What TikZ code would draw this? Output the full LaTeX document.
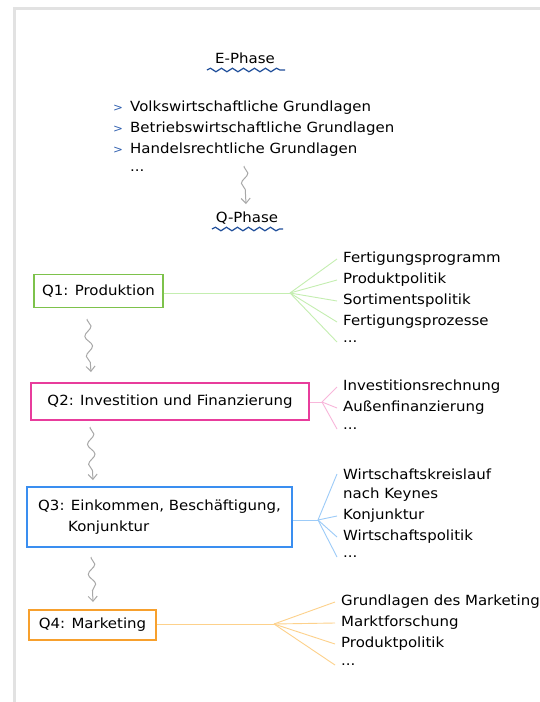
\documentclass[tikz,border=0pt]{standalone}
\usepackage{fontspec}
\setmainfont[FakeStretch=1.07]{DejaVu Sans}
\usetikzlibrary{decorations.pathmorphing,arrows.meta}
\definecolor{frame}{HTML}{E2E2E2}
\definecolor{wavy}{HTML}{1F4E9A}
\definecolor{bul}{HTML}{2F5FAF}
\definecolor{gA}{HTML}{7DC24B}\definecolor{gL}{HTML}{C4EEB0}
\definecolor{pA}{HTML}{E83C9C}\definecolor{pL}{HTML}{F8B6DA}
\definecolor{bA}{HTML}{3A8EF0}\definecolor{bL}{HTML}{9CCBF8}
\definecolor{oA}{HTML}{F7A02D}\definecolor{oL}{HTML}{FDD18B}
\definecolor{arr}{HTML}{A8A8A8}
\begin{document}
\begin{tikzpicture}[x=1pt,y=-1pt,
  txt/.style={font=\fontsize{14}{21}\selectfont, text=black, inner sep=0pt},
  item/.style={txt, anchor=west, inner xsep=6pt, inner ysep=0pt},
  qbox/.style={draw=#1, line width=1.4pt, fill=white, font=\fontsize{14}{21}\selectfont, inner sep=0pt},
  fan/.style={draw=#1, line width=0.9pt},
  underwave/.style={draw=wavy, line width=1.2pt, decorate, decoration={snake, segment length=11pt, amplitude=1.8pt}},
  wavearrow/.style={draw=arr, line width=1pt, decorate, decoration={snake, segment length=20pt, amplitude=3.5pt, pre length=1pt, post length=8pt}, -{Straight Barb[length=5pt,width=9pt]}},
  bullet/.style={text=bul, font=\fontsize{11}{11}\selectfont, inner sep=0pt}
]
\useasboundingbox (0,0) rectangle (540,702);
\fill[white] (0,0) rectangle (540,702);
% frame
\draw[frame, line width=3pt] (14.5,702) -- (14.5,8.5) -- (540,8.5);

% E-Phase
\node[txt] (ephase) at (245,58) {E-Phase};
\coordinate (ew1) at (207,70);
\coordinate (ew2) at (285,70);
\draw[underwave] (ew1) -- (ew2);

\node[bullet] (b1) at (118,108) {>};
\node[bullet] (b2) at (118,129) {>};
\node[bullet] (b3) at (118,150) {>};
\node[txt, anchor=west] (e1) at (130,108) {Volkswirtschaftliche Grundlagen};
\node[txt, anchor=west] (e2) at (130,129) {Betriebswirtschaftliche Grundlagen};
\node[txt, anchor=west] (e3) at (130,150) {Handelsrechtliche Grundlagen};
\node[txt, anchor=west] (e4) at (130,171) {...};

% Q-Phase
\node[txt] (qphase) at (247,218) {Q-Phase};
\coordinate (qw1) at (212,229);
\coordinate (qw2) at (283,229);
\draw[underwave] (qw1) -- (qw2);

\coordinate (ea1) at (244,166);
\coordinate (ea2) at (246,204);
\draw[wavearrow] (ea1) -- (ea2);

% Q1
\node[qbox=gA, minimum width=129pt, minimum height=33pt] (q1) at (98.5,291) {Q1: Produktion};
\coordinate (f1) at (290,293);
\node[item] (q1a) at (337,259) {Fertigungsprogramm};
\node[item] (q1b) at (337,280) {Produktpolitik};
\node[item] (q1c) at (337,301) {Sortimentspolitik};
\node[item] (q1d) at (337,322) {Fertigungsprozesse};
\node[item] (q1e) at (337,342) {...};
\draw[fan=gL] (q1.east |- f1) -- (f1);
\foreach \n in {q1a,q1b,q1c,q1d,q1e} \draw[fan=gL] (f1) -- (\n.west);

% Q2
\node[qbox=pA, minimum width=278pt, minimum height=37pt] (q2) at (170,401.5) {Q2: Investition und Finanzierung};
\coordinate (f2) at (322,402);
\node[item] (q2a) at (337,387) {Investitionsrechnung};
\node[item] (q2b) at (337,408) {Außenfinanzierung};
\node[item] (q2c) at (337,429) {...};
\draw[fan=pL] (q2.east |- f2) -- (f2);
\foreach \n in {q2a,q2b,q2c} \draw[fan=pL] (f2) -- (\n.west);

% Q3
\node[qbox=bA, minimum width=265pt, minimum height=60pt, align=left] (q3) at (159.5,517) {Q3: Einkommen, Beschäftigung,\\\hspace*{30pt}Konjunktur};
\coordinate (f3) at (318,520);
\node[item] (q3a) at (337,474) {Wirtschaftskreislauf};
\node[item] (q3b) at (337,495) {nach Keynes};
\node[item] (q3c) at (337,516) {Konjunktur};
\node[item] (q3d) at (337,537) {Wirtschaftspolitik};
\node[item] (q3e) at (337,557) {...};
\draw[fan=bL] (q3.east |- f3) -- (f3);
\foreach \n in {q3a,q3c,q3d,q3e} \draw[fan=bL] (f3) -- (\n.west);

% Q4
\node[qbox=oA, minimum width=127pt, minimum height=30pt] (q4) at (92.5,625) {Q4: Marketing};
\coordinate (f4) at (274,624);
\node[item] (q4a) at (335,602) {Grundlagen des Marketing};
\node[item] (q4b) at (335,623) {Marktforschung};
\node[item] (q4c) at (335,644) {Produktpolitik};
\node[item] (q4d) at (335,665) {...};
\draw[fan=oL] (q4.east |- f4) -- (f4);
\foreach \n in {q4a,q4b,q4c,q4d} \draw[fan=oL] (f4) -- (\n.west);

% wavy arrows between boxes
\coordinate (a1s) at (87,319);
\coordinate (a1e) at (91,372);
\draw[wavearrow] (a1s) -- (a1e);
\coordinate (a2s) at (90,427);
\coordinate (a2e) at (93,480);
\draw[wavearrow] (a2s) -- (a2e);
\coordinate (a3s) at (91,557);
\coordinate (a3e) at (93,602);
\draw[wavearrow] (a3s) -- (a3e);
\end{tikzpicture}
\end{document}
